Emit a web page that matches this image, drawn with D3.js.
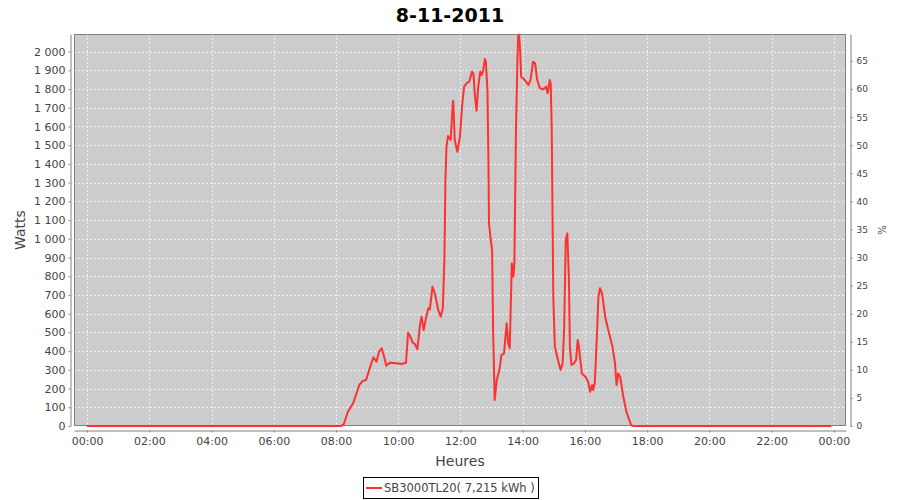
<!DOCTYPE html>
<html>
<head>
<meta charset="utf-8">
<script src="https://cdn.jsdelivr.net/npm/d3@7"></script>
<style>
  html, body { margin: 0; padding: 0; background: #fff; }
  svg { display: block; font-family: "DejaVu Sans", sans-serif; }
</style>
</head>
<body>
<svg id="chart" width="900" height="500"></svg>
<script>
// ---- Data ----
const chartTitle = "8-11-2011";
const seriesName = "SB3000TL20( 7,215 kWh )";
const times = ["00:00","08:10","08:15","08:23","08:33","08:45","08:52","08:58","09:05","09:12","09:18","09:23","09:28","09:32","09:37","09:44","09:57","10:06","10:15","10:19","10:22","10:28","10:32","10:37","10:42","10:45","10:49","10:53","10:58","11:01","11:06","11:11","11:17","11:22","11:26","11:29","11:31","11:33","11:36","11:41","11:45","11:46","11:49","11:54","11:59","12:03","12:07","12:12","12:17","12:22","12:25","12:28","12:31","12:34","12:38","12:41","12:44","12:47","12:49","12:52","12:54","12:55","12:58","13:01","13:03","13:06","13:10","13:15","13:19","13:24","13:29","13:32","13:35","13:39","13:42","13:44","13:47","13:50","13:52","13:55","13:57","14:04","14:11","14:15","14:20","14:24","14:28","14:33","14:40","14:45","14:48","14:52","14:54","14:56","14:59","15:02","15:08","15:13","15:17","15:20","15:23","15:26","15:29","15:31","15:34","15:39","15:43","15:46","15:48","15:54","16:01","16:06","16:10","16:14","16:16","16:19","16:23","16:26","16:29","16:33","16:39","16:45","16:53","16:58","17:01","17:04","17:08","17:14","17:20","17:29","17:33","23:55"];
const watts = [0,0,10,76,121,219,242,246,308,367,343,397,415,379,322,338,335,331,338,498,486,445,438,410,540,584,513,570,629,623,744,705,620,584,629,887,1314,1492,1549,1528,1715,1738,1528,1465,1545,1706,1813,1831,1839,1893,1884,1759,1684,1804,1893,1875,1902,1960,1946,1795,1403,1083,1003,940,500,139,246,299,379,388,549,442,415,869,798,869,1581,1973,2130,2009,1866,1848,1822,1848,1946,1937,1848,1804,1798,1813,1777,1848,1831,1581,691,424,353,299,335,530,994,1029,798,424,326,335,353,459,433,281,263,237,183,219,192,228,477,691,736,709,584,513,424,335,219,281,263,156,76,5,0,0];
const xTickHours = [0,2,4,6,8,10,12,14,16,18,20,22,24];
const wattTicks = d3.range(0, 2001, 100);
const pctTicks = d3.range(0, 66, 5);
const nominalPower = 3000; // % axis = watts / 3000

// ---- Layout ----
const svg = d3.select("#chart");
const plot = { left: 74, right: 846, top: 34, bottom: 426 };
const axisGrey = "#808080";
const labelColor = "#444444";

const toHours = s => { const [h, m] = s.split(":").map(Number); return h + m / 60; };
const data = times.map((t, i) => ({ h: toHours(t), w: watts[i] }));

const x = d3.scaleLinear().domain([-0.42, 24.39]).range([plot.left, plot.right]);
const y = d3.scaleLinear().domain([0, 2094]).range([plot.bottom, plot.top]);
const yPct = d3.scaleLinear().domain([0, 2094 / nominalPower * 100]).range([plot.bottom, plot.top]);

const fmtW = n => n >= 1000 ? Math.floor(n / 1000) + " " + String(n % 1000).padStart(3, "0") : String(n);
const fmtH = h => String(h % 24).padStart(2, "0") + ":00";

// Plot background
svg.append("rect")
  .attr("x", plot.left).attr("y", plot.top)
  .attr("width", plot.right - plot.left).attr("height", plot.bottom - plot.top)
  .attr("fill", "#cccccc");

// Gridlines
const grid = svg.append("g").attr("stroke", "#ffffff").attr("stroke-width", 0.8)
  .attr("stroke-dasharray", "2,2").attr("opacity", 0.85);
grid.selectAll(".gx").data(xTickHours).join("line")
  .attr("x1", d => Math.round(x(d)) + 0.5).attr("x2", d => Math.round(x(d)) + 0.5)
  .attr("y1", plot.top).attr("y2", plot.bottom);
grid.selectAll(".gy").data(wattTicks).join("line")
  .attr("x1", plot.left).attr("x2", plot.right)
  .attr("y1", d => Math.round(y(d)) + 0.5).attr("y2", d => Math.round(y(d)) + 0.5);

// Plot outline
svg.append("rect")
  .attr("x", plot.left + 0.5).attr("y", plot.top + 0.5)
  .attr("width", plot.right - plot.left - 1).attr("height", plot.bottom - plot.top - 1)
  .attr("fill", "none").attr("stroke", axisGrey).attr("stroke-width", 1);

// Clip (top clipped at plot edge, bottom lets the zero line show)
svg.append("clipPath").attr("id", "clip").append("rect")
  .attr("x", plot.left).attr("y", plot.top)
  .attr("width", plot.right - plot.left).attr("height", plot.bottom - plot.top + 1);

// Line
const line = d3.line().x(d => x(d.h)).y(d => y(d.w));
svg.append("path").datum(data)
  .attr("clip-path", "url(#clip)")
  .attr("fill", "none").attr("stroke", "#ff3030").attr("stroke-width", 2)
  .attr("stroke-linejoin", "round")
  .attr("d", line);

function styleAxis(g, size) {
  g.select(".domain").attr("stroke", axisGrey);
  g.selectAll(".tick line").attr("stroke", axisGrey);
  g.selectAll(".tick text").attr("fill", labelColor).attr("font-size", size)
    .attr("font-family", "DejaVu Sans, sans-serif");
}

// Left axis
const gL = svg.append("g").attr("transform", "translate(70.5,0)")
  .call(d3.axisLeft(y).tickValues(wattTicks).tickFormat(fmtW).tickSize(2).tickSizeOuter(0).tickPadding(3));
styleAxis(gL, 11);

// Bottom axis
const gB = svg.append("g").attr("transform", "translate(0,430.5)")
  .call(d3.axisBottom(x).tickValues(xTickHours).tickFormat(fmtH).tickSize(2).tickSizeOuter(0).tickPadding(5));
styleAxis(gB, 11);

// Right axis
const gR = svg.append("g").attr("transform", "translate(850.5,0)")
  .call(d3.axisRight(yPct).tickValues(pctTicks).tickSize(2).tickSizeOuter(0).tickPadding(4));
styleAxis(gR, 9);

// Title
svg.append("text").attr("x", 450).attr("y", 22).attr("text-anchor", "middle")
  .attr("font-size", 19).attr("font-weight", "bold").attr("fill", "#000").text(chartTitle);

// Axis labels
svg.append("text").attr("transform", "translate(25,230) rotate(-90)").attr("text-anchor", "middle")
  .attr("font-size", 14).attr("fill", labelColor).text("Watts");
svg.append("text").attr("x", 460).attr("y", 466).attr("text-anchor", "middle")
  .attr("font-size", 14).attr("fill", labelColor).text("Heures");
svg.append("text").attr("transform", "translate(878,230) rotate(90)").attr("text-anchor", "middle")
  .attr("font-size", 10).attr("fill", labelColor).text("%");

// Legend
const lg = svg.append("g");
lg.append("rect").attr("x", 363.5).attr("y", 477.5).attr("width", 175).attr("height", 21)
  .attr("fill", "#fff").attr("stroke", "#000").attr("stroke-width", 1);
lg.append("line").attr("x1", 366).attr("x2", 382).attr("y1", 488).attr("y2", 488)
  .attr("stroke", "#ff3030").attr("stroke-width", 2);
lg.append("text").attr("x", 384).attr("y", 492).attr("font-size", 11.5).attr("fill", labelColor)
  .text(seriesName);
</script>
</body>
</html>
